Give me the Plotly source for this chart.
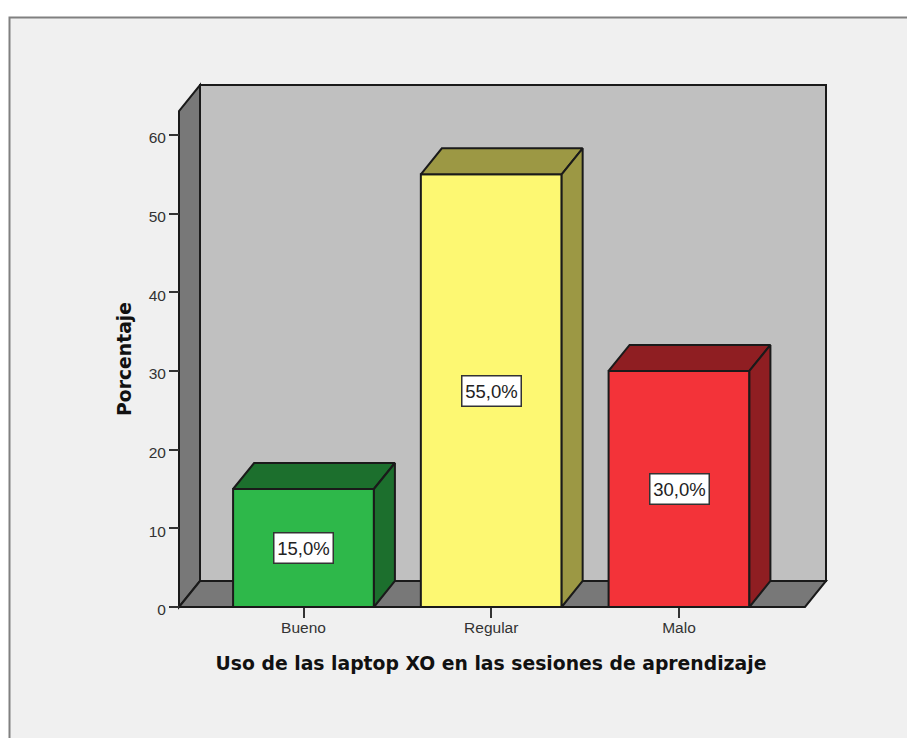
import plotly.graph_objects as go

categories = ["Bueno", "Regular", "Malo"]
values = [15.0, 55.0, 30.0]
labels = ["15,0%", "55,0%", "30,0%"]
front_colors = ["#2EB84A", "#FDF872", "#F33339"]
shade_colors = ["#1C6F2D", "#9C9844", "#8F1E22"]
y_ticks = [0, 10, 20, 30, 40, 50, 60]

W, H = 907, 738
PX_Y0, PX_PER_VALUE = 607, 7.867
PX_X0, PX_PER_CAT = 303.5, 187.75
BAR_W = 0.75
DX = 21 / PX_PER_CAT
DY = 26 / PX_PER_VALUE
X_L = (179 - PX_X0) / PX_PER_CAT
X_R = (805 - PX_X0) / PX_PER_CAT
Y_T = (607 - 111) / PX_PER_VALUE
LINE = "#1A1A1A"
GREY = "#787878"
WALL = "#C0C0C0"


def xpx(px):
    return (px - PX_X0) / PX_PER_CAT


def ypx(px):
    return (PX_Y0 - px) / PX_PER_VALUE


def poly_path(pts):
    return "M" + " L".join(f"{a},{b}" for a, b in pts) + " Z"


dom_l, dom_r, dom_t, dom_b = 146, 836, 75, 643
xs = list(range(len(categories)))

fig = go.Figure()

fig.add_trace(go.Bar(
    x=xs, y=values, width=BAR_W,
    marker=dict(color=front_colors, line=dict(color=LINE, width=2)),
    showlegend=False, hoverinfo="skip",
))

for xc, v, c in zip(xs, values, shade_colors):
    l, r = xc - BAR_W / 2, xc + BAR_W / 2
    fig.add_trace(go.Scatter(
        x=[l, l + DX, r + DX, r, l], y=[v, v + DY, v + DY, v, v],
        mode="lines", fill="toself", fillcolor=c,
        line=dict(color=LINE, width=2), showlegend=False, hoverinfo="skip",
    ))
    fig.add_trace(go.Scatter(
        x=[r, r + DX, r + DX, r, r], y=[v, v + DY, DY, 0, v],
        mode="lines", fill="toself", fillcolor=c,
        line=dict(color=LINE, width=2), showlegend=False, hoverinfo="skip",
    ))

shapes = [
    dict(type="rect", xref="paper", yref="paper", layer="below",
         x0=9.5 / W, x1=1.02, y0=-0.02, y1=1 - 17.5 / H,
         fillcolor="#F0F0F0", line=dict(color="#808080", width=2)),
    dict(type="path", xref="x", yref="y", layer="below",
         path=poly_path([(X_L + DX, DY), (X_R + DX, DY), (X_R + DX, Y_T + DY), (X_L + DX, Y_T + DY)]),
         fillcolor=WALL, line=dict(color=LINE, width=2)),
    dict(type="path", xref="x", yref="y", layer="below",
         path=poly_path([(X_L, 0), (X_L + DX, DY), (X_L + DX, Y_T + DY), (X_L, Y_T)]),
         fillcolor=GREY, line=dict(color=LINE, width=2)),
    dict(type="path", xref="x", yref="y", layer="below",
         path=poly_path([(X_L, 0), (X_R, 0), (X_R + DX, DY), (X_L + DX, DY)]),
         fillcolor=GREY, line=dict(color=LINE, width=2)),
]

annotations = [
    dict(x=xc, y=v / 2, xref="x", yref="y", text=t, showarrow=False,
         width=58, height=29, borderpad=0, align="center",
         bgcolor="#FFFFFF", bordercolor="#333333", borderwidth=1.5,
         font=dict(family="Liberation Sans", size=18.5, color="#222222"))
    for xc, v, t in zip(xs, values, labels)
]

fig.update_layout(
    width=W, height=H, autosize=False,
    margin=dict(l=0, r=0, t=0, b=0),
    paper_bgcolor="#FFFFFF", plot_bgcolor="rgba(0,0,0,0)",
    shapes=shapes, annotations=annotations, showlegend=False,
    xaxis=dict(
        domain=[dom_l / W, dom_r / W], range=[xpx(dom_l), xpx(dom_r)],
        anchor="free", position=1 - 607 / H,
        tickmode="array", tickvals=xs, ticktext=categories,
        ticks="outside", ticklen=10, tickwidth=1.5, tickcolor="#333333",
        ticklabelstandoff=-4,
        tickfont=dict(family="Liberation Sans", size=15.5, color="#333333"),
        showgrid=False, zeroline=False, showline=False,
        title=dict(text="<b>Uso de las laptop XO en las sesiones de aprendizaje</b>",
                   standoff=22,
                   font=dict(family="DejaVu Sans", size=18.8, color="#111111")),
    ),
    yaxis=dict(
        domain=[1 - dom_b / H, 1 - dom_t / H], range=[ypx(dom_b), ypx(dom_t)],
        anchor="free", position=179 / W,
        tickmode="array", tickvals=y_ticks,
        ticks="outside", ticklen=10, tickwidth=1.5, tickcolor="#333333",
        ticklabelshift=3,
        tickfont=dict(family="Liberation Sans", size=15.5, color="#333333"),
        showgrid=False, zeroline=False, showline=False,
        title=dict(text="<b>Porcentaje</b>", standoff=11,
                   font=dict(family="DejaVu Sans", size=18.8, color="#111111")),
    ),
)

fig.write_html(
    "out.html",
    config={"displayModeBar": False},
    post_script="document.body.style.margin='0';document.documentElement.style.overflow='hidden';",
)
